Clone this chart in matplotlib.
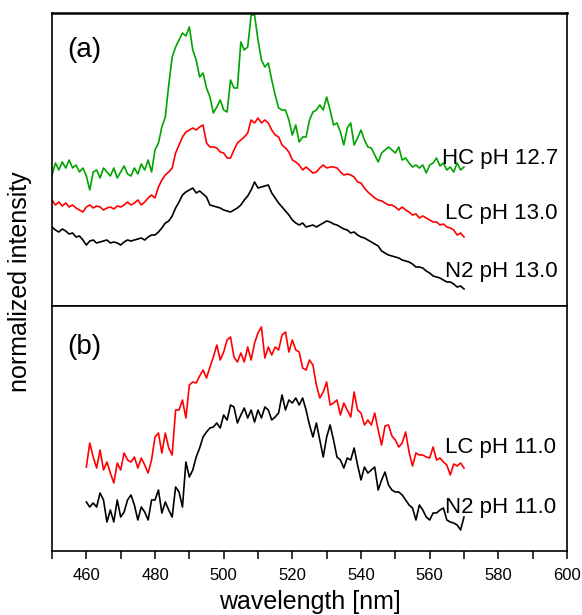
import numpy as np
import matplotlib
matplotlib.use('Agg')
import matplotlib.pyplot as plt
from matplotlib.ticker import MultipleLocator, NullLocator

plt.rcParams['font.family'] = ['Liberation Sans', 'DejaVu Sans']

# wavelength grid (nm)
wl_a = np.arange(450, 571)
wl_b = np.arange(460, 571)

# panel (a), offset spectra in arbitrary units
hc_127 = [131, 143, 136, 144, 138, 146, 138, 141, 134, 138,
          130, 116, 134, 136, 128, 138, 134, 130, 138, 128,
          134, 140, 132, 130, 138, 132, 142, 136, 146, 134,
          156, 163, 179, 189, 221, 249, 259, 266, 273, 270,
          279, 256, 246, 229, 233, 218, 209, 193, 199, 206,
          196, 194, 226, 218, 218, 264, 256, 259, 291, 291,
          266, 246, 239, 243, 226, 211, 198, 196, 196, 186,
          171, 181, 164, 169, 169, 186, 194, 196, 201, 196,
          209, 196, 181, 183, 174, 161, 178, 183, 161, 168,
          176, 166, 159, 158, 151, 144, 153, 156, 159, 156,
          153, 159, 146, 148, 143, 139, 141, 138, 141, 133,
          141, 143, 148, 140, 143, 136, 139, 134, 143, 136, 139]

lc_130 = [106, 101, 104, 100, 103, 99, 101, 98, 96, 94,
          99, 101, 98, 100, 99, 96, 98, 99, 97, 100,
          99, 101, 104, 101, 103, 106, 101, 104, 108, 111,
          108, 119, 126, 131, 134, 138, 153, 161, 169, 174,
          176, 178, 176, 179, 181, 163, 159, 159, 158, 154,
          153, 148, 148, 156, 163, 166, 169, 173, 186, 183,
          188, 183, 186, 183, 176, 171, 169, 161, 158, 154,
          146, 144, 141, 136, 139, 136, 133, 134, 138, 141,
          138, 139, 139, 138, 134, 131, 132, 131, 129, 124,
          123, 118, 114, 111, 108, 106, 105, 103, 101, 101,
          99, 96, 99, 96, 94, 91, 92, 88, 90, 88,
          86, 84, 84, 81, 82, 79, 78, 76, 71, 73, 69]

n2_130 = [79, 76, 74, 77, 75, 72, 73, 69, 70, 66,
          61, 65, 66, 63, 64, 65, 66, 63, 64, 63,
          61, 64, 66, 65, 66, 67, 68, 66, 69, 71,
          71, 74, 78, 83, 85, 90, 98, 104, 111, 114,
          116, 118, 113, 115, 112, 109, 101, 100, 99, 98,
          96, 95, 94, 96, 98, 101, 106, 110, 116, 124,
          118, 119, 120, 121, 113, 108, 103, 99, 95, 91,
          86, 83, 81, 83, 79, 80, 81, 79, 81, 83,
          85, 84, 82, 81, 79, 77, 76, 73, 74, 71,
          69, 68, 66, 64, 62, 60, 55, 53, 51, 50,
          49, 48, 46, 45, 44, 42, 39, 39, 38, 35,
          33, 30, 29, 28, 26, 24, 24, 22, 19, 20, 17]

# panel (b)
lc_110 = [84, 108, 94, 83, 101, 81, 89, 78, 68, 88,
          81, 98, 91, 89, 94, 83, 93, 86, 78, 91,
          114, 118, 98, 118, 103, 96, 141, 141, 151, 133,
          166, 169, 168, 175, 181, 173, 184, 194, 206, 191,
          199, 211, 214, 194, 189, 198, 189, 204, 191, 208,
          218, 224, 193, 204, 196, 204, 201, 216, 219, 199,
          211, 201, 199, 183, 181, 191, 186, 166, 153, 159,
          169, 146, 148, 151, 136, 148, 141, 134, 159, 141,
          138, 126, 131, 126, 138, 121, 106, 125, 126, 115,
          111, 104, 108, 119, 99, 85, 98, 96, 96, 94,
          93, 104, 91, 93, 89, 86, 76, 87, 85, 88, 83]

n2_110 = [49, 44, 48, 44, 58, 51, 29, 41, 29, 51,
          34, 39, 51, 56, 46, 31, 44, 39, 31, 51,
          51, 61, 38, 49, 41, 34, 64, 59, 44, 89,
          74, 81, 94, 103, 114, 119, 123, 124, 128, 123,
          136, 131, 146, 144, 128, 136, 143, 133, 141, 129,
          141, 133, 144, 141, 131, 134, 138, 156, 141, 151,
          148, 153, 146, 153, 141, 126, 114, 128, 111, 94,
          114, 126, 111, 94, 91, 83, 93, 91, 103, 86,
          71, 84, 78, 81, 84, 61, 71, 79, 66, 61,
          59, 59, 56, 51, 46, 43, 31, 46, 41, 34,
          31, 38, 38, 41, 43, 31, 29, 28, 26, 21, 34]

green = '#00a400'
lw = 1.2

fig = plt.figure(figsize=(5.82, 6.15), dpi=100)
ax_a = fig.add_axes([52 / 582, 309 / 615, 515 / 582, 293 / 615])
ax_b = fig.add_axes([52 / 582, 64 / 615, 515 / 582, 245 / 615])

ax_a.plot(wl_a, hc_127, color=green, lw=lw)
ax_a.plot(wl_a, lc_130, color='red', lw=lw)
ax_a.plot(wl_a, n2_130, color='black', lw=lw)
ax_a.set_ylim(0, 293)

ax_b.plot(wl_b, lc_110, color='red', lw=lw)
ax_b.plot(wl_b, n2_110, color='black', lw=lw)
ax_b.set_ylim(0, 245)

for ax in (ax_a, ax_b):
    ax.set_xlim(450, 600)
    ax.yaxis.set_major_locator(NullLocator())
    for s in ax.spines.values():
        s.set_linewidth(1.2)
ax_a.spines['top'].set_linewidth(1.8)

ax_a.tick_params(axis='x', which='both', bottom=False, labelbottom=False)
ax_b.xaxis.set_major_locator(MultipleLocator(20))
ax_b.xaxis.set_minor_locator(MultipleLocator(10))
ax_b.set_xticks(np.arange(460, 601, 20))
ax_b.tick_params(axis='x', which='both', direction='out', length=6, width=1.1,
                 labelsize=12, pad=6)
ax_b.set_xlabel('wavelength [nm]', fontsize=18, labelpad=5)

ax_a.text(454.5, 0.874, '(a)', transform=ax_a.get_xaxis_transform(),
          fontsize=20, va='center', ha='left')
ax_b.text(454.5, 0.833, '(b)', transform=ax_b.get_xaxis_transform(),
          fontsize=20, va='center', ha='left')

lab = dict(fontsize=16, va='center', ha='left')
ax_a.text(563.5, 0.505, 'HC pH 12.7', transform=ax_a.get_xaxis_transform(), **lab)
ax_a.text(564.5, 0.317, 'LC pH 13.0', transform=ax_a.get_xaxis_transform(), **lab)
ax_a.text(564.5, 0.119, 'N2 pH 13.0', transform=ax_a.get_xaxis_transform(), **lab)
ax_b.text(564.5, 0.424, 'LC pH 11.0', transform=ax_b.get_xaxis_transform(), **lab)
ax_b.text(564.5, 0.176, 'N2 pH 11.0', transform=ax_b.get_xaxis_transform(), **lab)

fig.text(0.035, (615 - 282) / 615, 'normalized intensity', rotation=90,
         fontsize=18, ha='center', va='center')

fig.savefig('out.png', dpi=100)
